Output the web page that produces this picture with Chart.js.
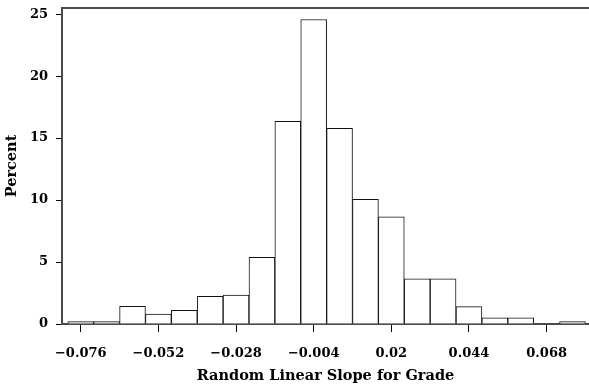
<!DOCTYPE html>
<html>
<head>
<meta charset="utf-8">
<script src="https://cdn.jsdelivr.net/npm/chart.js@4"></script>
<style>
  html, body { margin: 0; padding: 0; background: #fff; overflow: hidden; }
  #wrap { width: 589px; height: 389px; }
</style>
</head>
<body>
<div id="wrap"><canvas id="hist"></canvas></div>
<script>
// bin midpoints of the slope histogram (width 0.008)
const binMids = [-0.076, -0.068, -0.060, -0.052, -0.044, -0.036, -0.028, -0.020, -0.012, -0.004,
                 0.004, 0.012, 0.020, 0.028, 0.036, 0.044, 0.052, 0.060, 0.068, 0.076]
const percent = [0.19, 0.19, 1.43, 0.8, 1.1, 2.23, 2.34, 5.38, 16.35, 24.57,
                 15.78, 10.06, 8.65, 3.65, 3.65, 1.4, 0.5, 0.5, 0, 0.19]

const xTickValues = [-0.076, -0.052, -0.028, -0.004, 0.02, 0.044, 0.068]
const xTickLabels = ['\u22120.076', '\u22120.052', '\u22120.028', '\u22120.004', '0.02', '0.044', '0.068']
const yTickValues = [0, 5, 10, 15, 20, 25]

const font = { family: 'DejaVu Serif', size: 13, weight: 'bold' }
const titleFont = { family: 'DejaVu Serif', size: 14.5, weight: 'bold' }
const frame = '#4a4a4a'

new Chart(document.getElementById('hist'), {
  type: 'bar',
  data: {
    datasets: [{
      data: binMids.map((m, i) => ({ x: m, y: percent[i] })),
      backgroundColor: '#ffffff',
      borderColor: '#111111',
      borderWidth: 1,
      barPercentage: 1,
      categoryPercentage: 1
    }]
  },
  options: {
    animation: false,
    responsive: true,
    maintainAspectRatio: false,
    layout: { padding: 0 },
    plugins: { legend: { display: false }, tooltip: { enabled: false } },
    scales: {
      x: {
        type: 'linear',
        position: 'bottom',
        min: -0.0818,
        max: 0.0811,
        offset: false,
        afterBuildTicks: s => { s.ticks = xTickValues.map(v => ({ value: v })) },
        afterFit: s => { s.height = 65; s.paddingLeft = 0; s.paddingRight = 0 },
        grid: { offset: false, drawOnChartArea: false, drawTicks: true, tickLength: 8, color: '#000', lineWidth: 1 },
        border: { display: true, color: frame, width: 2 },
        ticks: {
          color: '#000', font: font, padding: 14, maxRotation: 0, autoSkip: false,
          callback: (v, i) => xTickLabels[i]
        },
        title: { display: true, text: 'Random Linear Slope for Grade', color: '#000', font: titleFont, padding: { top: 0, bottom: 4 } }
      },
      x2: {
        type: 'linear',
        position: 'top',
        min: 0, max: 1,
        afterFit: s => { s.height = 8 },
        grid: { display: false, drawTicks: false },
        ticks: { display: false },
        border: { display: true, color: frame, width: 2 }
      },
      y: {
        min: 0,
        max: 25.5,
        afterBuildTicks: s => { s.ticks = yTickValues.map(v => ({ value: v })) },
        afterFit: s => { s.width = 62; s.paddingTop = 0; s.paddingBottom = 0 },
        grid: { drawOnChartArea: false, drawTicks: true, tickLength: 6, color: '#000', lineWidth: 1 },
        border: { display: true, color: frame, width: 2 },
        ticks: { color: '#000', font: font, padding: 8 },
        title: { display: true, text: 'Percent', color: '#000', font: titleFont, padding: { top: 4, bottom: 0 } }
      }
    }
  }
})
</script>
</body>
</html>
